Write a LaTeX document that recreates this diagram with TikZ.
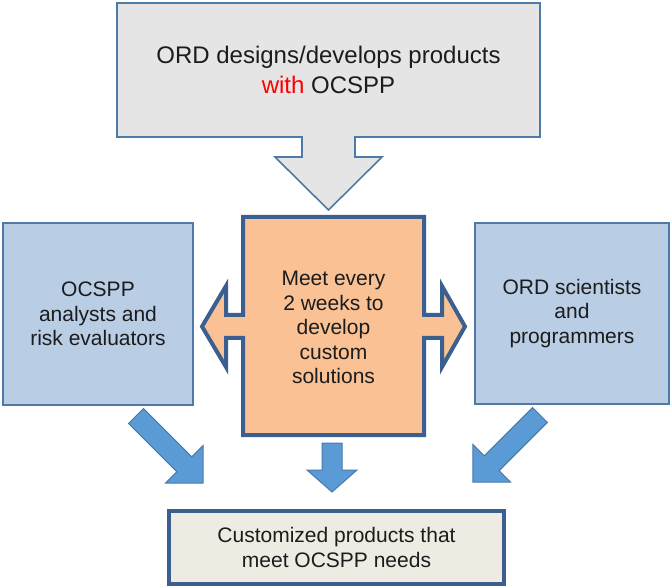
\documentclass[tikz,border=0pt]{standalone}
\usepackage{fontspec}
\setmainfont{Liberation Sans}
\begin{document}
\begin{tikzpicture}[x=1pt,y=-1pt,
  every node/.style={inner sep=0pt,align=center,text=textdark},
  bodytext/.style={font=\fontsize{21}{24.5}\selectfont},
  graybox/.style={fill=grayfill,draw=grayline,line width=1.6pt,line join=miter},
  orangebox/.style={fill=orangefill,draw=darkline,line width=4pt,line join=miter},
  bluebox/.style={fill=bluefill,draw=blueline,line width=1.8pt},
  endbox/.style={fill=endfill,draw=darkline,line width=4pt},
  bluearrow/.style={fill=arrowfill,draw=arrowline,line width=1pt,line join=miter},
  diagarrow/.pic={\draw[bluearrow] (0,-10.5) -- (68.3,-10.5) -- (68.3,-26.5)
      -- (94.8,0) -- (68.3,26.5) -- (68.3,10.5) -- (0,10.5) -- cycle;}]
\definecolor{textdark}{HTML}{1C1C1C}
\definecolor{grayfill}{HTML}{E5E5E5}
\definecolor{grayline}{HTML}{4E7AA8}
\definecolor{orangefill}{HTML}{F9C194}
\definecolor{darkline}{HTML}{3B5F8E}
\definecolor{bluefill}{HTML}{B9CDE5}
\definecolor{blueline}{HTML}{5079A9}
\definecolor{endfill}{HTML}{EEECE2}
\definecolor{arrowfill}{HTML}{5B9BD5}
\definecolor{arrowline}{HTML}{4779AD}

\useasboundingbox (0,0) rectangle (670,588);

% top callout with its downward arrow
\draw[graybox] (117,3) -- (540,3) -- (540,137) -- (355,137) -- (355,157)
  -- (382,157) -- (328.5,210) -- (275,157) -- (302,157) -- (302,137)
  -- (117,137) -- cycle;
\node (ord) at (328.5,70) [font=\fontsize{24}{30}\selectfont]
  {ORD designs/develops products\\\textcolor{red}{with} OCSPP};

% central meeting box with arrows to both sides
\draw[orangebox] (243,217) -- (424,217) -- (424,315) -- (442,315) -- (442,286)
  -- (465,326.5) -- (442,367) -- (442,338) -- (424,338) -- (424,435)
  -- (243,435) -- (243,338) -- (226,338) -- (226,367) -- (202,326.5)
  -- (226,286) -- (226,315) -- (243,315) -- cycle;
\node[bodytext] (meet) at (333.5,327.5)
  {Meet every\\2 weeks to\\develop\\custom\\solutions};

% the two partner groups
\node[bluebox,bodytext,minimum width=190pt,minimum height=182pt] (ocspp) at (98,314)
  {OCSPP\\analysts and\\risk evaluators};
\node[bluebox,bodytext,minimum width=194pt,minimum height=181pt] (sci) at (572,313.5)
  {ORD scientists\\and\\programmers};

% result
\node[endbox,bodytext,minimum width=335pt,minimum height=73pt] (result) at (336.5,547.5)
  {Customized products that\\meet OCSPP needs};

% arrows feeding the result
\pic[rotate=-45] at (136,416) {diagarrow};
\pic[rotate=-135] at (540,415) {diagarrow};
\draw[bluearrow] (322,443) -- (342,443) -- (342,470) -- (357,470) -- (332,492)
  -- (307,470) -- (322,470) -- cycle;
\end{tikzpicture}
\end{document}
